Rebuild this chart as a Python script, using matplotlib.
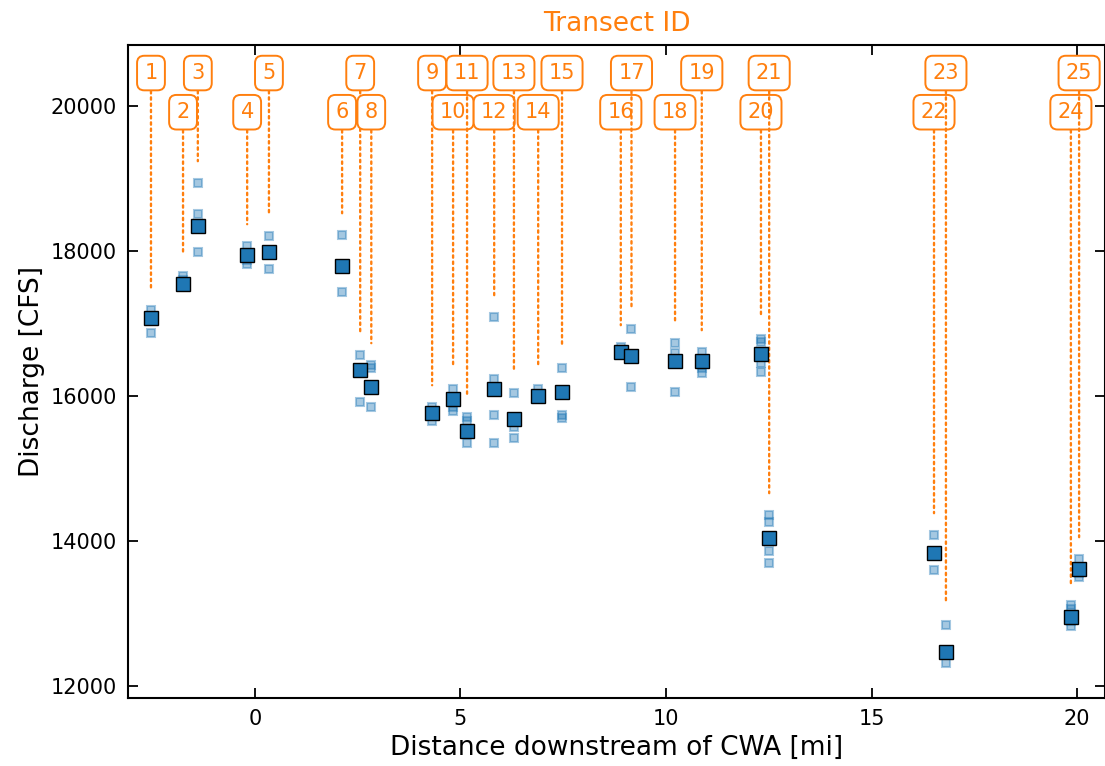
import matplotlib.pyplot as plt

# transect locations (miles downstream of CWA) and mean discharge
transect_id = list(range(1, 26))
distance_mi = [-2.53, -1.75, -1.39, -0.19, 0.34, 2.12, 2.56, 2.83, 4.31, 4.82,
               5.16, 5.82, 6.30, 6.89, 7.47, 8.90, 9.16, 10.22, 10.87, 12.31,
               12.51, 16.52, 16.81, 19.85, 20.05]
mean_q = [17076, 17545, 18345, 17945, 17986, 17793, 16359, 16124, 15766, 15959,
          15517, 16097, 15683, 16000, 16055, 16607, 16552, 16483, 16483, 16579,
          14041, 13834, 12469, 12952, 13614]

# individual ADCP passes per transect
pass_q = [
    [17186, 16869],
    [17655, 17600],
    [18938, 18510, 17986],
    [18069, 17880, 17820],
    [18207, 17752],
    [18220, 17434],
    [16566, 15917],
    [16428, 16386, 15848],
    [15848, 15655],
    [16097, 15848, 15793],
    [15710, 15655, 15352],
    [17090, 16234, 15738, 15352],
    [16041, 15572, 15421],
    [16097, 15960],
    [16386, 15738, 15697],
    [16676, 16580],
    [16924, 16124],
    [16731, 16593, 16055],
    [16607, 16380, 16317],
    [16786, 16740, 16455, 16331],
    [14359, 14262, 13862, 13697],
    [14083, 13600],
    [12841, 12317],
    [13117, 13060, 12900, 12828],
    [13752, 13560, 13503],
]

plt.rcParams['xtick.labelsize'] = 15
plt.rcParams['ytick.labelsize'] = 15

fig = plt.figure(figsize=(11.05, 7.66), dpi=100)
ax = fig.add_axes([0.1158, 0.0888, 0.8842, 0.8525])

for x, qs in zip(distance_mi, pass_q):
    ax.plot([x] * len(qs), qs, 's', color='C0', ms=5.5, mew=1.5, alpha=0.4,
            linestyle='none')

ax.plot(distance_mi, mean_q, 's', color='C0', mec='black', mew=1.0, ms=10,
        linestyle='none', zorder=5)

# transect labels, alternating rows, with a dotted leader down to the data
for tid, x, qs in zip(transect_id, distance_mi, pass_q):
    row_y = 0.957 if tid % 2 == 1 else 0.897
    ax.annotate(str(tid), xy=(x, max(qs) + 300), xycoords='data',
                xytext=(x, row_y), textcoords=('data', 'axes fraction'),
                ha='center', va='center', fontsize=15, color='C1',
                bbox=dict(boxstyle='round,pad=0.35', fc='white', ec='C1', lw=1.4),
                arrowprops=dict(arrowstyle='-', color='C1', lw=1.7, ls=':',
                                shrinkA=0, shrinkB=0))

ax.set_xlim(-3.09, 20.68)
ax.set_ylim(11834, 20841)
ax.set_xticks([0, 5, 10, 15, 20])
ax.set_yticks([12000, 14000, 16000, 18000, 20000])

ax.tick_params(direction='in', top=True, right=True, length=7, width=1.3,
               labelsize=15, pad=8)
for s in ax.spines.values():
    s.set_linewidth(1.5)

ax.set_xlabel('Distance downstream of CWA [mi]', fontsize=19)
ax.set_ylabel('Discharge [CFS]', fontsize=19)
ax.set_title('Transect ID', color='C1', fontsize=19, pad=10)

fig.savefig('out.png', dpi=100)
